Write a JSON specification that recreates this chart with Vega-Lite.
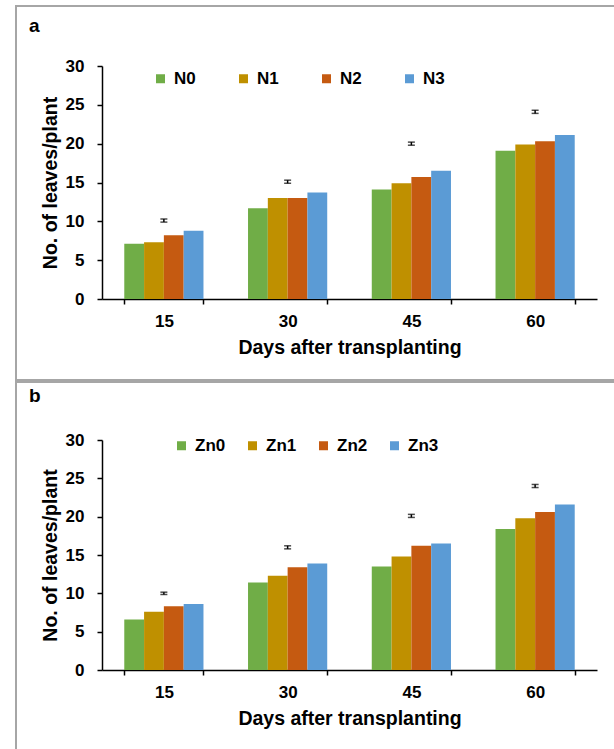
{
  "$schema": "https://vega.github.io/schema/vega-lite/v6.json",
  "padding": {"left": 15, "top": 5, "right": 0, "bottom": 0},
  "background": "white",
  "spacing": 0,
  "config": {
    "font": "Liberation Sans",
    "view": {"stroke": "#a6a6a6", "strokeWidth": 2},
    "axis": {
      "grid": false, "domainColor": "black", "domainWidth": 1.5,
      "tickColor": "black", "tickWidth": 1.5, "tickSize": 5,
      "labelFont": "Liberation Sans", "labelFontSize": 17, "labelFontWeight": "bold", "labelColor": "black",
      "titleFont": "Liberation Sans", "titleFontSize": 19.5, "titleFontWeight": "bold", "titleColor": "black"
    },
    "legend": {
      "symbolType": "square", "symbolSize": 81, "symbolStrokeWidth": 0,
      "labelFont": "Liberation Sans", "labelFontSize": 17, "labelFontWeight": "bold", "labelColor": "black",
      "labelOffset": 5, "padding": 0
    }
  },
  "resolve": {"scale": {"x": "independent", "y": "independent", "color": "independent", "xOffset": "independent"}, "legend": {"color": "independent"}},
  "vconcat": [
    {
      "width": 600, "height": 374,
      "title": {"text": "a", "anchor": "start", "frame": "group", "offset": -45, "dx": 13, "fontSize": 19, "fontWeight": "bold", "baseline": "alphabetic", "color": "black", "font": "Liberation Sans"},
      "layer": [
        {
          "data": {"values": [
            {"day": 15, "trt": "N0", "v": 7.1}, {"day": 15, "trt": "N1", "v": 7.3}, {"day": 15, "trt": "N2", "v": 8.2}, {"day": 15, "trt": "N3", "v": 8.8},
            {"day": 30, "trt": "N0", "v": 11.7}, {"day": 30, "trt": "N1", "v": 13.0}, {"day": 30, "trt": "N2", "v": 13.0}, {"day": 30, "trt": "N3", "v": 13.7},
            {"day": 45, "trt": "N0", "v": 14.1}, {"day": 45, "trt": "N1", "v": 14.9}, {"day": 45, "trt": "N2", "v": 15.7}, {"day": 45, "trt": "N3", "v": 16.5},
            {"day": 60, "trt": "N0", "v": 19.1}, {"day": 60, "trt": "N1", "v": 19.9}, {"day": 60, "trt": "N2", "v": 20.3}, {"day": 60, "trt": "N3", "v": 21.1}
          ]},
          "mark": {"type": "bar"},
          "encoding": {
            "x": {"field": "day", "type": "ordinal", "scale": {"range": [86, 581], "paddingInner": 0.36, "paddingOuter": 0.18},
                  "axis": {"offset": -81, "tickBand": "extent", "labelAngle": 0, "labelPadding": 9, "titlePadding": 9, "title": "Days after transplanting"}},
            "xOffset": {"field": "trt", "type": "nominal", "scale": {"paddingInner": 0, "paddingOuter": 0}},
            "y": {"field": "v", "type": "quantitative", "title": "No. of leaves/plant", "scale": {"domain": [0, 30], "range": [293, 60], "nice": false},
                  "axis": {"offset": -86, "values": [0, 5, 10, 15, 20, 25, 30], "labelPadding": 13, "titlePadding": 5}},
            "color": {"field": "trt", "type": "nominal",
                      "scale": {"domain": ["N0", "N1", "N2", "N3"], "range": ["#70ad47", "#bf9000", "#c55a11", "#5b9bd5"]},
                      "legend": {"orient": "none", "legendX": 136, "legendY": 64, "direction": "horizontal", "title": null, "columnPadding": 39}}
          }
        },
        {
          "data": {"values": [
            {"day": 15, "lo": 9.9, "hi": 10.3}, {"day": 30, "lo": 14.9, "hi": 15.3},
            {"day": 45, "lo": 19.8, "hi": 20.2}, {"day": 60, "lo": 23.9, "hi": 24.3}
          ]},
          "mark": {"type": "errorbar", "ticks": true, "size": 7, "thickness": 1.5, "color": "black"},
          "encoding": {
            "x": {"field": "day", "type": "ordinal"},
            "y": {"field": "lo", "type": "quantitative", "title": "No. of leaves/plant"},
            "y2": {"field": "hi"}
          }
        }
      ]
    },
    {
      "width": 600, "height": 372,
      "title": {"text": "b", "anchor": "start", "frame": "group", "offset": -39, "dx": 13, "fontSize": 19, "fontWeight": "bold", "baseline": "alphabetic", "color": "black", "font": "Liberation Sans"},
      "layer": [
        {
          "data": {"values": [
            {"day": 15, "trt": "Zn0", "v": 6.6}, {"day": 15, "trt": "Zn1", "v": 7.6}, {"day": 15, "trt": "Zn2", "v": 8.3}, {"day": 15, "trt": "Zn3", "v": 8.6},
            {"day": 30, "trt": "Zn0", "v": 11.4}, {"day": 30, "trt": "Zn1", "v": 12.3}, {"day": 30, "trt": "Zn2", "v": 13.4}, {"day": 30, "trt": "Zn3", "v": 13.9},
            {"day": 45, "trt": "Zn0", "v": 13.5}, {"day": 45, "trt": "Zn1", "v": 14.8}, {"day": 45, "trt": "Zn2", "v": 16.2}, {"day": 45, "trt": "Zn3", "v": 16.5},
            {"day": 60, "trt": "Zn0", "v": 18.4}, {"day": 60, "trt": "Zn1", "v": 19.8}, {"day": 60, "trt": "Zn2", "v": 20.6}, {"day": 60, "trt": "Zn3", "v": 21.6}
          ]},
          "mark": {"type": "bar"},
          "encoding": {
            "x": {"field": "day", "type": "ordinal", "scale": {"range": [86, 581], "paddingInner": 0.36, "paddingOuter": 0.18},
                  "axis": {"offset": -84, "tickBand": "extent", "labelAngle": 0, "labelPadding": 9, "titlePadding": 9, "title": "Days after transplanting"}},
            "xOffset": {"field": "trt", "type": "nominal", "scale": {"paddingInner": 0, "paddingOuter": 0}},
            "y": {"field": "v", "type": "quantitative", "title": "No. of leaves/plant", "scale": {"domain": [0, 30], "range": [288, 58], "nice": false},
                  "axis": {"offset": -86, "values": [0, 5, 10, 15, 20, 25, 30], "labelPadding": 13, "titlePadding": 5}},
            "color": {"field": "trt", "type": "nominal",
                      "scale": {"domain": ["Zn0", "Zn1", "Zn2", "Zn3"], "range": ["#70ad47", "#bf9000", "#c55a11", "#5b9bd5"]},
                      "legend": {"orient": "none", "legendX": 157, "legendY": 55, "direction": "horizontal", "title": null, "columnPadding": 18}}
          }
        },
        {
          "data": {"values": [
            {"day": 15, "lo": 9.85, "hi": 10.15}, {"day": 30, "lo": 15.8, "hi": 16.2},
            {"day": 45, "lo": 19.9, "hi": 20.3}, {"day": 60, "lo": 23.8, "hi": 24.2}
          ]},
          "mark": {"type": "errorbar", "ticks": true, "size": 7, "thickness": 1.5, "color": "black"},
          "encoding": {
            "x": {"field": "day", "type": "ordinal"},
            "y": {"field": "lo", "type": "quantitative", "title": "No. of leaves/plant"},
            "y2": {"field": "hi"}
          }
        }
      ]
    }
  ]
}
